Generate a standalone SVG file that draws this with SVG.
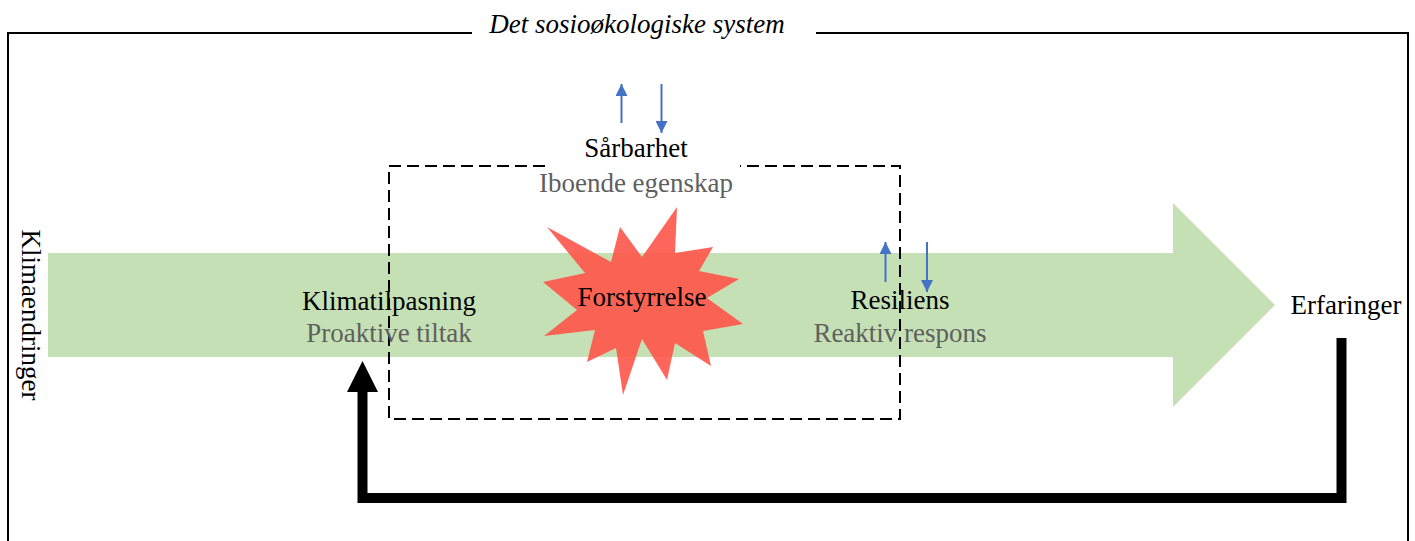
<svg xmlns="http://www.w3.org/2000/svg" width="1415" height="541" viewBox="0 0 1415 541">
  <defs>
    <style>
      .t { font-family: "Liberation Serif", "Times New Roman", serif; font-size: 27px; fill: #000; text-anchor: middle; }
      .g { fill: #5f5f5f; }
      .blue { stroke: #4472C4; stroke-width: 2; fill: none; }
    </style>
    <marker id="ah" viewBox="0 0 10 10" refX="10" refY="5" markerWidth="12" markerHeight="12" orient="auto" markerUnits="userSpaceOnUse">
      <path d="M0,0 L10,5 L0,10 Z" fill="#4472C4"/>
    </marker>
  </defs>
  <rect width="1415" height="541" fill="#fff"/>

  <g id="frame">
    <path d="M8,541 V33 H472 M816,33 H1408 V541" fill="none" stroke="#000" stroke-width="2"/>
    <text class="t" x="637" y="33" font-style="italic">Det sosioøkologiske system</text>
  </g>

  <g id="flow-arrow">
    <path d="M48,253 H1173 V203 L1275,305 L1173,407 V357 H48 Z" fill="#C5E0B4"/>
  </g>

  <g id="sarbarhet-box">
    <path d="M545,166 H389 V419 H900 V166 H740" fill="none" stroke="#000" stroke-width="2" stroke-dasharray="12,6"/>
    <text class="t" x="636" y="157">Sårbarhet</text>
    <text class="t g" x="636" y="192">Iboende egenskap</text>
  </g>

  <g id="forstyrrelse">
    <polygon points="547,227 611,262 620,227 642,257 677,207 675,253 713,247 699,271 739,279 707,298 743,324 703,331 711,366 675,343 667,380 642,339 623,395 616,348 587,362 595,330 544,336 577,310 543,282 585,273" fill="#FF5549" fill-opacity="0.9"/>
    <text class="t" x="642" y="306" font-size="24">Forstyrrelse</text>
  </g>

  <g id="klimatilpasning">
    <text class="t" x="389" y="310">Klimatilpasning</text>
    <text class="t g" x="389" y="342">Proaktive tiltak</text>
  </g>

  <g id="resiliens">
    <text class="t" x="900" y="309">Resiliens</text>
    <text class="t g" x="900" y="342">Reaktiv respons</text>
  </g>

  <g id="erfaringer">
    <text class="t" x="1346" y="314">Erfaringer</text>
  </g>

  <g id="klimaendringer">
    <text class="t" transform="translate(22,315) rotate(90)">Klimaendringer</text>
  </g>

  <g id="connectors">
    <path d="M1341.5,338 V498 H362.5 V390" fill="none" stroke="#000" stroke-width="10" stroke-linejoin="miter"/>
    <polygon points="347,392 378,392 362.5,361" fill="#000"/>
    <line class="blue" x1="621.5" y1="123" x2="621.5" y2="84" marker-end="url(#ah)"/>
    <line class="blue" x1="661.5" y1="84" x2="661.5" y2="133" marker-end="url(#ah)"/>
    <line class="blue" x1="885.5" y1="282" x2="885.5" y2="242" marker-end="url(#ah)"/>
    <line class="blue" x1="927" y1="242" x2="927" y2="292" marker-end="url(#ah)"/>
  </g>
</svg>
